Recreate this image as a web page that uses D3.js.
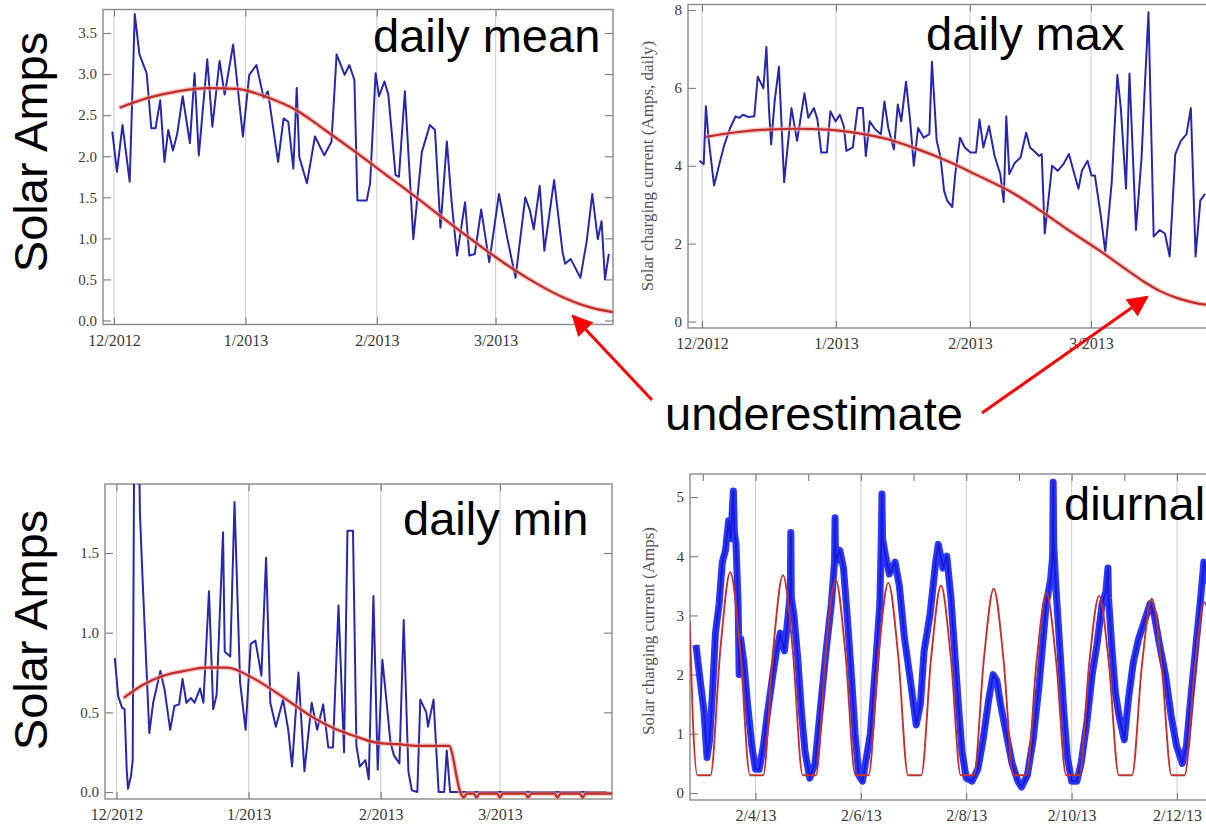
<!DOCTYPE html>
<html>
<head>
<meta charset="utf-8">
<script src="https://cdn.jsdelivr.net/npm/d3@7"></script>
<style>
    body { margin: 0; background: #fff; }
    svg { display: block; }
    .tick text { font-family: "Liberation Serif", "Times New Roman", serif; fill: #3a3a3a; }
    .tick line { stroke: #7a7a7a; stroke-width: 1.1; }
    .big { font-family: "Liberation Sans", Arial, sans-serif; font-size: 47px; fill: #000; }
    .ylab { font-family: "Liberation Serif", "Times New Roman", serif; font-size: 17px; fill: #555; }
</style>
</head>
<body>
<svg id="chart" width="1206" height="826"></svg>
<script>
// ---- data (day offsets from 12/1/2012, amps) ----
const monthLabels = ['12/2012', '1/2013', '2/2013', '3/2013'];
const dayLabels = ['2/4/13', '2/6/13', '2/8/13', '2/10/13', '2/12/13'];

const dailyMean = [[-0.4,2.30],[0.7,1.81],[2,2.38],[3.7,1.69],[4.9,3.73],[6,3.24],[7.7,3.01],[8.8,2.34],[9.8,2.34],[10.9,2.68],[11.9,1.93],[12.8,2.32],[13.9,2.07],[14.9,2.27],[16.2,2.73],[17.9,2.16],[19,3.01],[20,2.01],[22,3.18],[23.2,2.36],[24.9,3.16],[26.1,2.75],[28.1,3.36],[30.4,2.24],[31.9,2.99],[33.6,3.11],[35.3,2.71],[36.3,2.79],[38.7,1.93],[40,2.46],[41.1,2.42],[42.3,1.85],[43.1,2.83],[43.7,1.99],[45.5,1.67],[47.4,2.24],[49.6,2.01],[51.3,2.18],[52.5,3.24],[54.4,2.99],[55.5,3.11],[56.7,2.93],[57.4,1.46],[59.6,1.46],[60.4,1.67],[61.7,3.01],[62.5,2.73],[63.8,2.91],[64.7,2.75],[66.4,1.77],[67.2,1.75],[68.6,2.79],[70.6,0.99],[72.6,2.05],[74.5,2.38],[75.7,2.32],[77,1.13],[78.5,2.18],[79.6,1.46],[80.9,0.79],[82.8,1.44],[83.8,0.79],[85.1,0.81],[86.6,1.35],[88.5,0.71],[90.8,1.54],[92.8,0.99],[94.7,0.52],[97,1.50],[98.1,1.34],[99,1.11],[100.4,1.64],[101.5,0.85],[103.8,1.71],[105.8,0.83],[106.4,0.69],[107.7,0.75],[110,0.52],[111.5,0.97],[112.8,1.54],[114.1,0.99],[115,1.21],[115.8,0.50],[116.7,0.81]];
const meanFit = [[1.3,2.59],[8,2.71],[15,2.79],[22,2.83],[29,2.82],[36,2.72],[43,2.56],[50,2.31],[57,2.05],[64,1.78],[71,1.51],[78,1.23],[85,0.96],[92,0.70],[99,0.47],[106,0.28],[113,0.15],[118,0.10]];

const dailyMax = [[-0.6,4.13],[0.4,4.04],[0.9,5.53],[1.5,4.72],[2.8,3.49],[4.3,4.17],[5.2,4.55],[6.5,4.97],[7.8,5.27],[8.6,5.23],[9.5,5.31],[10.8,5.25],[12.1,5.27],[12.9,6.29],[14.2,5.99],[14.9,7.05],[15.5,5.44],[16,4.55],[16.8,5.65],[17.8,6.54],[19,3.58],[20.7,5.48],[22,4.64],[23.7,5.86],[24.6,5.23],[25.9,5.48],[26.7,5.19],[27.6,4.34],[28.9,4.34],[29.7,5.40],[30.9,5.14],[31.9,5.31],[32.8,5.02],[33.4,4.38],[34.9,4.47],[36,5.48],[37.2,5.48],[37.9,4.25],[38.8,5.14],[40.1,4.93],[41.4,4.81],[42.2,5.65],[43.1,4.97],[44.4,4.42],[45.3,5.57],[46.1,5.14],[47.2,6.16],[48.1,5.23],[49,4.0],[50,4.97],[51.3,4.72],[52.6,4.81],[53.2,6.67],[54.3,4.64],[55.2,4.21],[56,3.36],[56.7,3.11],[57.9,2.94],[58.6,3.79],[59.7,4.72],[60.8,4.47],[62.1,4.34],[63.4,4.34],[64.2,5.19],[65.1,4.47],[66.4,5.02],[67.7,4.25],[69,3.79],[69.8,3.07],[70.4,5.27],[71.1,3.79],[72.4,4.08],[73.7,4.21],[75,4.85],[75.9,4.47],[77.2,4.34],[78,4.25],[78.6,4.30],[79.3,2.26],[81,4.0],[82.3,3.87],[83.6,4.04],[84.9,4.30],[85.8,3.92],[87.1,3.41],[87.9,3.87],[89.2,4.13],[90.1,3.75],[90.9,3.75],[92.2,2.77],[93.3,1.80],[94.8,3.58],[96.1,6.33],[96.9,5.48],[98.1,3.41],[98.9,6.37],[100.4,2.35],[101.7,4.21],[102.4,5.91],[103.3,7.94],[104.5,2.18],[105.9,2.35],[107.1,2.26],[108.2,1.67],[109.5,4.30],[110.8,4.64],[112.1,4.81],[113.1,5.48],[114.2,1.67],[115.3,3.11],[116.4,3.28]];
const maxFit = [[0.9,4.74],[8,4.86],[15,4.93],[22,4.95],[29,4.93],[36,4.84],[43,4.68],[50,4.42],[57,4.11],[64,3.74],[71,3.36],[78,2.87],[85,2.33],[92,1.82],[99,1.27],[102,1.04],[106,0.78],[110,0.60],[114,0.48],[118,0.41]];

const dailyMin = [[-0.4,0.84],[0.4,0.60],[1.3,0.53],[1.9,0.52],[2.4,0.14],[2.7,0.02],[3.4,0.10],[3.8,0.20],[4.2,2.5],[5.1,2.5],[5.5,1.75],[6.1,1.35],[6.7,0.98],[7.7,0.37],[8.6,0.56],[10.3,0.76],[11.3,0.64],[12.6,0.39],[13.6,0.54],[14.7,0.55],[15.5,0.71],[16.4,0.56],[17.5,0.59],[18.3,0.56],[19.6,0.65],[20.4,0.56],[21.7,1.26],[22.7,0.52],[23.5,0.61],[25,1.63],[25.4,0.88],[26.7,0.85],[27.7,1.82],[29,0.69],[30.3,0.39],[31.5,0.93],[32.6,0.95],[34,0.73],[35.1,1.47],[36.1,0.56],[37.4,0.41],[39.1,0.58],[40.3,0.39],[41.2,0.16],[42.7,0.75],[44.1,0.13],[45.8,0.56],[47.1,0.39],[48.5,0.55],[49.7,0.28],[50.8,0.28],[52.1,1.17],[53.4,0.25],[54.2,1.64],[55.5,1.64],[56.3,0.29],[57.1,0.16],[58.4,0.20],[59.2,0.08],[60.3,1.23],[61.3,0.14],[62.4,0.83],[63.4,0.56],[64.3,0.31],[65.1,0.23],[66.4,0.18],[67.4,1.08],[68.5,0.13],[69.3,0.01],[70.6,0],[71.3,0.58],[72.7,0.50],[73.1,0.41],[74.4,0.58],[75.6,0],[76.9,0],[77.5,0.26],[78.3,0],[115,0]];
const minFit = [[1.7,0.59],[6,0.67],[11,0.73],[16,0.76],[21,0.78],[26,0.78],[31,0.73],[36,0.65],[41,0.56],[46,0.47],[51,0.40],[56,0.35],[61,0.31],[66,0.30],[71,0.29],[78,0.29],[80.8,-0.01],[81.5,-0.035],[82.2,-0.01],[83.8,-0.01],[84.5,-0.035],[85.2,-0.01],[89.3,-0.01],[90,-0.035],[90.7,-0.01],[95.9,-0.01],[96.6,-0.035],[97.3,-0.01],[102.8,-0.01],[103.5,-0.035],[104.2,-0.01],[108.7,-0.01],[109.4,-0.035],[110.1,-0.01],[117,-0.01]];

// diurnal: observed in days from 2/4/13 00:00, fit in hours from 2/4/13 00:00
const diurnalObs = [[-1.13,2.5],[-1.05,1.9],[-0.98,1.4],[-0.92,0.6],[-0.87,0.9],[-0.81,1.8],[-0.76,2.7],[-0.69,3.2],[-0.63,3.9],[-0.57,4.1],[-0.51,4.6],[-0.47,4.3],[-0.42,5.1],[-0.40,4.4],[-0.37,4.2],[-0.33,3.2],[-0.31,2.0],[-0.28,2.6],[-0.22,2.2],[-0.15,1.5],[-0.07,0.8],[0,0.4],[0.07,0.4],[0.15,0.8],[0.22,1.3],[0.33,2.0],[0.40,2.4],[0.47,2.7],[0.55,2.4],[0.62,3.0],[0.66,3.4],[0.67,4.4],[0.68,3.3],[0.73,3.0],[0.80,2.3],[0.87,1.4],[0.94,0.7],[1.03,0.25],[1.13,0.5],[1.24,1.5],[1.34,2.4],[1.44,3.2],[1.50,3.9],[1.51,4.65],[1.52,3.9],[1.60,4.1],[1.67,3.8],[1.74,3.0],[1.82,2.0],[1.89,1.0],[1.96,0.3],[2.03,0.2],[2.18,1.0],[2.29,2.3],[2.36,3.2],[2.39,4.4],[2.40,5.05],[2.41,4.3],[2.47,4.0],[2.54,3.7],[2.65,3.9],[2.73,3.5],[2.83,2.6],[2.94,1.9],[3.05,1.15],[3.13,1.5],[3.20,2.4],[3.31,3.0],[3.42,3.9],[3.47,4.2],[3.56,3.8],[3.63,4.0],[3.71,3.3],[3.78,2.4],[3.85,1.5],[3.92,0.7],[4.0,0.25],[4.11,0.2],[4.22,0.4],[4.32,0.9],[4.43,1.6],[4.51,2.0],[4.58,1.9],[4.65,1.5],[4.76,1.0],[4.87,0.5],[4.98,0.2],[5.05,0.1],[5.16,0.3],[5.27,0.9],[5.38,1.8],[5.45,2.5],[5.52,3.2],[5.60,3.6],[5.64,4.0],[5.65,5.25],[5.66,4.2],[5.70,3.5],[5.78,2.4],[5.85,1.4],[5.92,0.6],[6.0,0.2],[6.10,0.2],[6.18,0.5],[6.29,1.2],[6.39,2.0],[6.48,2.5],[6.58,3.2],[6.65,3.4],[6.69,3.8],[6.70,3.3],[6.76,2.5],[6.83,1.7],[6.90,1.3],[7.0,0.9],[7.08,1.6],[7.17,2.2],[7.27,2.6],[7.38,2.9],[7.49,3.2],[7.57,3.0],[7.67,2.5],[7.78,2.0],[7.89,1.3],[7.99,0.8],[8.10,0.5],[8.18,0.8],[8.25,1.5],[8.36,2.5],[8.45,3.3],[8.51,3.9],[8.58,3.6],[8.65,3.5]];
const diurnalFit = [[-30,2.9],[-28.5,1.2],[-26.5,0.3],
    [-20.5,0.3],[-16,2.43],[-11.5,3.73],[-7,2.43],[-2.5,0.3],
    [3.5,0.3],[8,2.40],[12.5,3.68],[17,2.40],[21.5,0.3],
    [27.5,0.3],[32,2.35],[36.5,3.60],[41,2.35],[45.5,0.3],
    [51.5,0.3],[56,2.32],[60.5,3.55],[65,2.32],[69.5,0.3],
    [75.5,0.3],[80,2.28],[84.5,3.50],[89,2.28],[93.5,0.3],
    [99.5,0.3],[104,2.25],[108.5,3.45],[113,2.25],[117.5,0.3],
    [123.5,0.3],[128,2.21],[132.5,3.38],[137,2.21],[141.5,0.3],
    [147.5,0.3],[152,2.18],[156.5,3.33],[161,2.18],[165.5,0.3],
    [171.5,0.3],[176,2.15],[180.5,3.28],[185,2.15],[189.5,0.3],
    [195.5,0.3],[200,2.11],[204.5,3.22],[206.5,3.0]];

// ---- helpers ----
const DAY = 864e5;
const parseMonth = s => { const [m, y] = s.split('/').map(Number); return new Date(Date.UTC(y, m - 1, 1)); };
const parseDay = s => { const [m, d, y] = s.split('/').map(Number); return new Date(Date.UTC(2000 + y, m - 1, d)); };
const monthDates = monthLabels.map(parseMonth);
const dec1 = monthDates[0].getTime();
const feb4 = parseDay(dayLabels[0]).getTime();
const fromDec = d => new Date(dec1 + d[0] * DAY);
const fromFeb4Days = d => new Date(feb4 + d[0] * DAY);
const fromFeb4Hours = d => new Date(feb4 + d[0] * 36e5);

const svg = d3.select('#chart');
const blue = { stroke: '#2828ac', width: 2 };
const red = { stroke: '#c02c28', width: 2.2, halo: '#f2a3a3' };

function drawPanel(p) {
    const b = p.box;
    const g = svg.append('g');
    const cid = 'clip-' + p.id;
    g.append('clipPath').attr('id', cid).append('rect')
        .attr('x', b.l).attr('y', b.t)
        .attr('width', b.r - b.l).attr('height', b.b - b.t);

    // grid
    g.append('g').selectAll('line').data(p.grid).enter().append('line')
        .attr('x1', d => p.x(d)).attr('x2', d => p.x(d))
        .attr('y1', b.t).attr('y2', b.b)
        .attr('stroke', '#d2d2d2').attr('stroke-width', 1.2);

    // y axes, ticks pointing inward
    const left = g.append('g').attr('transform', `translate(${b.l},0)`);
    left.call(d3.axisLeft(p.y).tickValues(p.yMinor).tickSize(-4).tickFormat(''));
    left.call(d3.axisLeft(p.y).tickValues(p.yMajor).tickSize(-8).tickPadding(6).tickFormat(p.yFmt));
    const right = g.append('g').attr('transform', `translate(${b.r},0)`);
    right.call(d3.axisRight(p.y).tickValues(p.yMinor).tickSize(-4).tickFormat(''));
    right.call(d3.axisRight(p.y).tickValues(p.yMajor).tickSize(-8).tickFormat(''));

    // x axes
    const bottom = g.append('g').attr('transform', `translate(0,${b.b})`);
    bottom.call(d3.axisBottom(p.x).tickValues(p.xTicks).tickSize(-7).tickFormat(''));
    bottom.call(d3.axisBottom(p.x).tickValues(p.xLabelDates).tickSize(-7).tickPadding(10)
        .tickFormat((d, i) => p.xLabels[i]));
    const top = g.append('g').attr('transform', `translate(0,${b.t})`);
    top.call(d3.axisTop(p.x).tickValues(p.xTicks).tickSize(-7).tickFormat(''));

    g.selectAll('.domain').remove();
    g.selectAll('.tick text').attr('font-size', 15);
    bottom.selectAll('.tick text').attr('font-size', 16);

    // frame
    g.append('rect')
        .attr('x', b.l).attr('y', b.t)
        .attr('width', b.r - b.l).attr('height', b.b - b.t)
        .attr('fill', 'none').attr('stroke', '#8a8a8a').attr('stroke-width', 1.4);

    // series
    const plot = g.append('g').attr('clip-path', `url(#${cid})`);
    p.series.forEach(s => {
        const line = d3.line()
            .x(d => p.x(s.xv(d)))
            .y(d => p.y(d[1]))
            .curve(s.curve || d3.curveLinear);
        if (s.halo) {
            plot.append('path').datum(s.data)
                .attr('d', line).attr('fill', 'none')
                .attr('stroke', s.halo).attr('stroke-width', s.haloWidth || 5)
                .attr('stroke-opacity', s.haloOpacity || 0.6)
                .attr('stroke-linejoin', 'round');
        }
        plot.append('path').datum(s.data)
            .attr('d', line).attr('fill', 'none')
            .attr('stroke', s.stroke).attr('stroke-width', s.width)
            .attr('stroke-linejoin', 'round');
    });
}

const monthGrid = monthDates;

drawPanel({
    id: 'mean',
    box: { l: 103, r: 613, t: 9.5, b: 324.5 },
    x: d3.scaleUtc().domain([monthDates[0], monthDates[3]]).range([114, 495.6]),
    y: d3.scaleLinear().domain([0, 3.5]).range([320.5, 33]),
    yMajor: d3.range(0, 3.51, 0.5),
    yMinor: d3.range(0, 3.75, 0.1),
    yFmt: d3.format('.1f'),
    grid: monthGrid, xTicks: monthDates, xLabelDates: monthDates, xLabels: monthLabels,
    series: [
        { data: dailyMean, xv: fromDec, ...blue },
        { data: meanFit, xv: fromDec, curve: d3.curveMonotoneX, ...red }
    ]
});

drawPanel({
    id: 'max',
    box: { l: 688, r: 1240, t: 4.5, b: 328 },
    x: d3.scaleUtc().domain([monthDates[0], monthDates[3]]).range([702, 1091]),
    y: d3.scaleLinear().domain([0, 8]).range([321.5, 10]),
    yMajor: [0, 2, 4, 6, 8],
    yMinor: d3.range(0, 8.01, 0.5),
    yFmt: d3.format('d'),
    grid: monthGrid, xTicks: monthDates, xLabelDates: monthDates, xLabels: monthLabels,
    series: [
        { data: dailyMax, xv: fromDec, ...blue },
        { data: maxFit, xv: fromDec, curve: d3.curveMonotoneX, ...red }
    ]
});

drawPanel({
    id: 'min',
    box: { l: 105, r: 612, t: 484, b: 799 },
    x: d3.scaleUtc().domain([monthDates[0], monthDates[3]]).range([116.5, 500]),
    y: d3.scaleLinear().domain([0, 1.5]).range([792, 553]),
    yMajor: [0, 0.5, 1, 1.5],
    yMinor: d3.range(0, 1.95, 0.1),
    yFmt: d3.format('.1f'),
    grid: monthGrid, xTicks: monthDates, xLabelDates: monthDates, xLabels: monthLabels,
    series: [
        { data: dailyMin, xv: fromDec, ...blue },
        { data: minFit, xv: fromDec, curve: d3.curveMonotoneX, ...red }
    ]
});

const dayDates = dayLabels.map(parseDay);
const dailyTicks = d3.utcDay.range(new Date(feb4 - DAY), new Date(feb4 + 9 * DAY));
drawPanel({
    id: 'diurnal',
    box: { l: 690, r: 1240, t: 474, b: 800 },
    x: d3.scaleUtc().domain([dayDates[0], dayDates[4]]).range([755.5, 1177]),
    y: d3.scaleLinear().domain([0, 5]).range([793, 497]),
    yMajor: [0, 1, 2, 3, 4, 5],
    yMinor: d3.range(0, 5.3, 0.2),
    yFmt: d3.format('d'),
    grid: dayDates, xTicks: dailyTicks, xLabelDates: dayDates, xLabels: dayLabels,
    series: [
        { data: diurnalObs, xv: fromFeb4Days, stroke: '#1a1ad8', width: 2,
          halo: '#1f2cff', haloWidth: 7, haloOpacity: 0.95 },
        { data: diurnalFit, xv: fromFeb4Hours, curve: d3.curveMonotoneX,
          stroke: '#c8302c', width: 1.9 }
    ]
});

// small axis titles of the right-hand panels
svg.append('text').attr('class', 'ylab')
    .attr('transform', 'translate(653,166) rotate(-90)')
    .attr('text-anchor', 'middle')
    .text('Solar charging current (Amps, daily)');
svg.append('text').attr('class', 'ylab')
    .attr('transform', 'translate(654,631) rotate(-90)')
    .attr('text-anchor', 'middle')
    .text('Solar charging current (Amps)');

// big annotation text
const big = [
    { t: 'daily mean', x: 373, y: 52 },
    { t: 'daily max', x: 926, y: 50 },
    { t: 'daily min', x: 403, y: 535 },
    { t: 'diurnal', x: 1064, y: 520 },
    { t: 'underestimate', x: 665, y: 430 }
];
svg.selectAll('.bigtxt').data(big).enter().append('text')
    .attr('class', 'big').attr('x', d => d.x).attr('y', d => d.y).text(d => d.t);

[152, 630].forEach(cy => {
    svg.append('text').attr('class', 'big')
        .attr('transform', `translate(47,${cy}) rotate(-90)`)
        .attr('text-anchor', 'middle')
        .text('Solar Amps');
});

// red arrows
const defs = svg.append('defs');
defs.append('marker').attr('id', 'head')
    .attr('viewBox', '0 0 10 10').attr('refX', 9).attr('refY', 5)
    .attr('markerWidth', 7).attr('markerHeight', 7)
    .attr('markerUnits', 'strokeWidth')
    .attr('orient', 'auto')
    .append('path').attr('d', 'M0,0 L10,5 L0,10 z').attr('fill', '#f00');

const arrows = [
    { x1: 652, y1: 400, x2: 573, y2: 316 },
    { x1: 982, y1: 413, x2: 1147, y2: 297 }
];
svg.selectAll('.arrow').data(arrows).enter().append('line')
    .attr('x1', d => d.x1).attr('y1', d => d.y1)
    .attr('x2', d => d.x2).attr('y2', d => d.y2)
    .attr('stroke', '#f00').attr('stroke-width', 3)
    .attr('marker-end', 'url(#head)');
</script>
</body>
</html>
